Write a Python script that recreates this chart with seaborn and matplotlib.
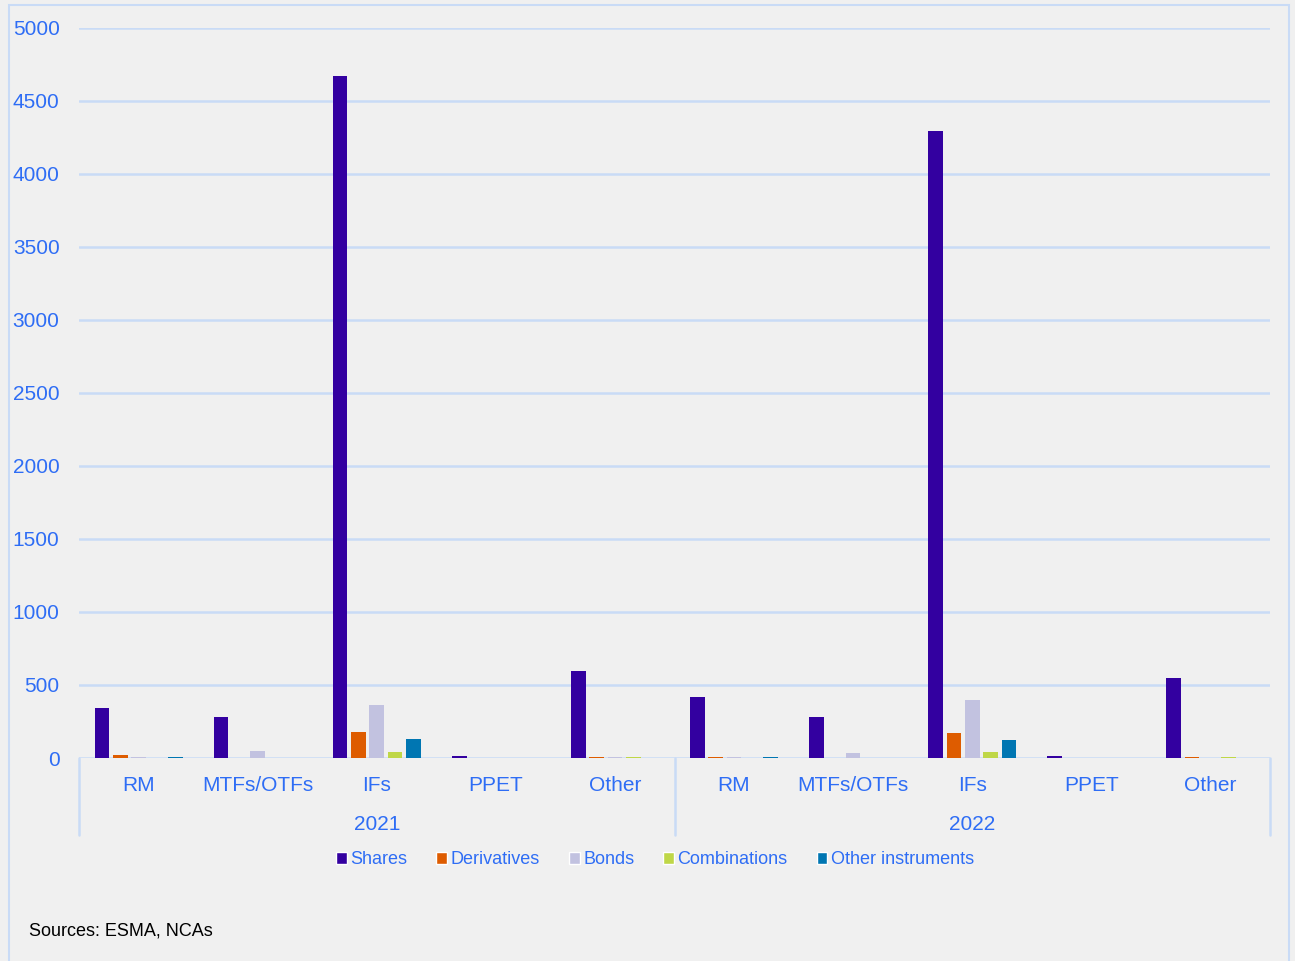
import matplotlib
matplotlib.use("Agg")
import matplotlib.pyplot as plt
from matplotlib.patches import Rectangle
import pandas as pd
import seaborn as sns

years = ["2021", "2022"]
venues = ["RM", "MTFs/OTFs", "IFs", "PPET", "Other"]
instruments = ["Shares", "Derivatives", "Bonds", "Combinations", "Other instruments"]

# values per instrument, ordered 2021 RM..Other, then 2022 RM..Other
shares = [342, 280, 4671, 15, 596, 418, 280, 4295, 12, 548]
derivatives = [20, 3, 178, 0, 5, 10, 0, 172, 0, 5]
bonds = [5, 48, 363, 0, 5, 10, 33, 397, 0, 3]
combinations = [0, 0, 40, 0, 5, 0, 0, 40, 0, 5]
other_instruments = [5, 0, 130, 0, 0, 5, 0, 123, 0, 0]

colors = ["#3300a0", "#de5c00", "#c2c2e0", "#bfd747", "#0076b2"]
blue_txt = "#2e6df5"
grid_c = "#c9dbf6"

slots = [f"{y} {v}" for y in years for v in venues]
rows = []
for name, vals in zip(instruments, [shares, derivatives, bonds, combinations, other_instruments]):
    for s, v in zip(slots, vals):
        rows.append({"slot": s, "instrument": name, "value": v})
df = pd.DataFrame(rows)

sns.set_theme(style="white")
plt.rcParams["font.family"] = ["Liberation Sans", "DejaVu Sans"]

fig = plt.figure(figsize=(12.95, 9.61), dpi=100)
fig.patch.set_facecolor("#f0f0f0")
fig.patches.append(Rectangle((9 / 1295, -0.01), 1280 / 1295, 1 - 5 / 961 + 0.01,
                             transform=fig.transFigure, fill=False,
                             edgecolor=grid_c, linewidth=1.5))

ax = fig.add_axes([79 / 1295, 1 - 758 / 961, (1270 - 79) / 1295, 730 / 961])
ax.set_facecolor("#f0f0f0")

sns.barplot(data=df, x="slot", y="value", hue="instrument", order=slots,
            hue_order=instruments, palette=colors, width=0.77, gap=0.2,
            ax=ax, legend=False, saturation=1, linewidth=0)

ax.set_ylim(0, 5000)
ax.set_xlim(-0.5, 9.5)
ax.set_yticks(range(0, 5001, 500))
ax.yaxis.grid(True, color=grid_c, linewidth=1.8)
ax.set_axisbelow(True)
for sp in ax.spines.values():
    sp.set_visible(False)
ax.set_xlabel("")
ax.set_ylabel("")
ax.set_xticks(range(len(slots)))
ax.set_xticklabels(venues * 2)
ax.tick_params(axis="x", length=0, pad=13, labelsize=15, labelcolor=blue_txt)
ax.tick_params(axis="y", length=0, pad=14, labelsize=15, labelcolor=blue_txt)

tr = ax.get_xaxis_transform()
for xs in [-0.5, 4.5, 9.5]:
    ax.plot([xs, xs], [0, -77 / 730], color=grid_c, linewidth=1.8,
            transform=tr, clip_on=False)
for i, y in enumerate(years):
    ax.text(2 + 5 * i, -66 / 730, y, transform=tr, ha="center", va="center",
            fontsize=15, color=blue_txt)

handles = [Rectangle((0, 0), 1, 1, facecolor=c) for c in colors]
fig.legend(handles, instruments, loc="center", bbox_to_anchor=(655 / 1295, 1 - 860 / 961),
           ncol=5, frameon=False, fontsize=13, labelcolor=blue_txt,
           handlelength=0.6, handleheight=0.6, handletextpad=0.2, columnspacing=1.6)

fig.text(29 / 1295, 1 - 931 / 961, "Sources: ESMA, NCAs", fontsize=13,
         color="black", va="center", ha="left")

fig.savefig("out.png", dpi=100, facecolor=fig.get_facecolor())
